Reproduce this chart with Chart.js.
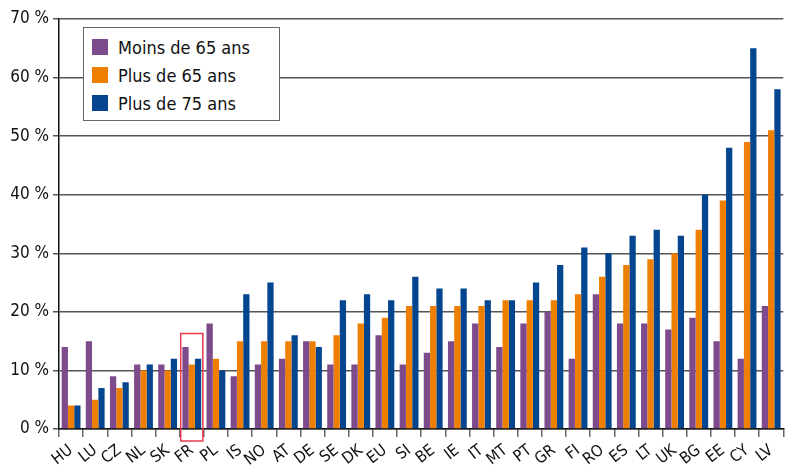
<!DOCTYPE html>
<html>
<head>
<meta charset="utf-8">
<script src="https://cdn.jsdelivr.net/npm/chart.js@4.4.0/dist/chart.umd.min.js"></script>
<style>
  html, body { margin: 0; padding: 0; background: #fff; }
  #wrap { position: relative; width: 787px; height: 468px; }
  #legend {
    position: absolute; left: 83px; top: 27px; width: 197px; height: 94px;
    box-sizing: border-box; border: 1.5px solid #666; background: #fff;
    font-family: "DejaVu Sans Condensed", "DejaVu Sans", sans-serif; font-size: 18px; color: #111;
    padding: 5px 0 0 8px;
  }
  #legend .item { display: flex; align-items: center; height: 28px; }
  #legend .sw { width: 16px; height: 16px; margin-right: 10px; }
</style>
</head>
<body>
<div id="wrap">
  <canvas id="chart" width="787" height="468"></canvas>
  <div id="legend"></div>
</div>
<script>
document.addEventListener('DOMContentLoaded', () => {

    // --- data ---
    const countries = ['HU', 'LU', 'CZ', 'NL', 'SK', 'FR', 'PL', 'IS', 'NO', 'AT', 'DE', 'SE', 'DK', 'EU', 'SI',
                       'BE', 'IE', 'IT', 'MT', 'PT', 'GR', 'FI', 'RO', 'ES', 'LT', 'UK', 'BG', 'EE', 'CY', 'LV'];
    const under65 = [14, 15, 9, 11, 11, 14, 18, 9, 11, 12, 15, 11, 11, 16, 11,
                     13, 15, 18, 14, 18, 20, 12, 23, 18, 18, 17, 19, 15, 12, 21];
    const over65  = [4, 5, 7, 10, 10, 11, 12, 15, 15, 15, 15, 16, 18, 19, 21,
                     21, 21, 21, 22, 22, 22, 23, 26, 28, 29, 30, 34, 39, 49, 51];
    const over75  = [4, 7, 8, 11, 12, 12, 10, 23, 25, 16, 14, 22, 23, 22, 26,
                     24, 24, 22, 22, 25, 28, 31, 30, 33, 34, 33, 40, 48, 65, 58];
    const seriesNames = ['Moins de 65 ans', 'Plus de 65 ans', 'Plus de 75 ans'];
    const seriesColors = ['#7d4b8b', '#ef7f00', '#03468f'];
    const highlighted = 'FR';

    const font = '"DejaVu Sans Condensed", "DejaVu Sans", sans-serif';

    // red frame around the highlighted country
    const highlightBox = {
        id: 'highlightBox',
        afterDatasetsDraw(chart) {
            const x = chart.scales.x, y = chart.scales.y;
            const i = countries.indexOf(highlighted);
            if (i < 0) return;
            const half = (x.getPixelForValue(1) - x.getPixelForValue(0)) / 2;
            const cx = x.getPixelForValue(i);
            const top = y.getPixelForValue(16.3);
            const bottom = y.bottom + 12;
            const c = chart.ctx;
            c.save();
            c.strokeStyle = '#e63a4f';
            c.lineWidth = 1.5;
            c.strokeRect(cx - half + 1, top, 2 * half - 2, bottom - top);
            c.restore();
        }
    };

    new Chart(document.getElementById('chart'), {
        type: 'bar',
        data: {
            labels: countries,
            datasets: [under65, over65, over75].map((d, k) => ({
                label: seriesNames[k],
                data: d,
                backgroundColor: seriesColors[k],
                borderWidth: 0,
                categoryPercentage: 0.78,
                barPercentage: 1.0
            }))
        },
        options: {
            responsive: false,
            animation: false,
            layout: { padding: { top: 19, right: 0, left: 0, bottom: 0 } },
            plugins: { legend: { display: false }, tooltip: { enabled: false } },
            scales: {
                x: {
                    border: { color: '#111', width: 1.5 },
                    grid: { drawOnChartArea: false, drawTicks: true, tickLength: 8, color: '#666', lineWidth: 1.5 },
                    ticks: {
                        color: '#111', font: { family: font, size: 16 },
                        autoSkip: false, minRotation: 38, maxRotation: 38, padding: 4
                    },
                    afterFit(s) { s.height = 39; }
                },
                y: {
                    min: 0, max: 70,
                    border: { color: '#111', width: 1.5 },
                    grid: { color: '#555', lineWidth: 1.5, tickLength: 6 },
                    ticks: {
                        stepSize: 10, color: '#111', padding: 4,
                        font: { family: font, size: 17 },
                        callback: v => v + ' %'
                    },
                    afterFit(s) { s.width = 59; }
                }
            }
        },
        plugins: [highlightBox]
    });

    // legend box
    const legend = document.getElementById('legend');
    seriesNames.forEach((name, k) => {
        const row = document.createElement('div');
        row.className = 'item';
        row.innerHTML = '<span class="sw" style="background:' + seriesColors[k] + '"></span>' + name;
        legend.appendChild(row);
    });
});
</script>
</body>
</html>
